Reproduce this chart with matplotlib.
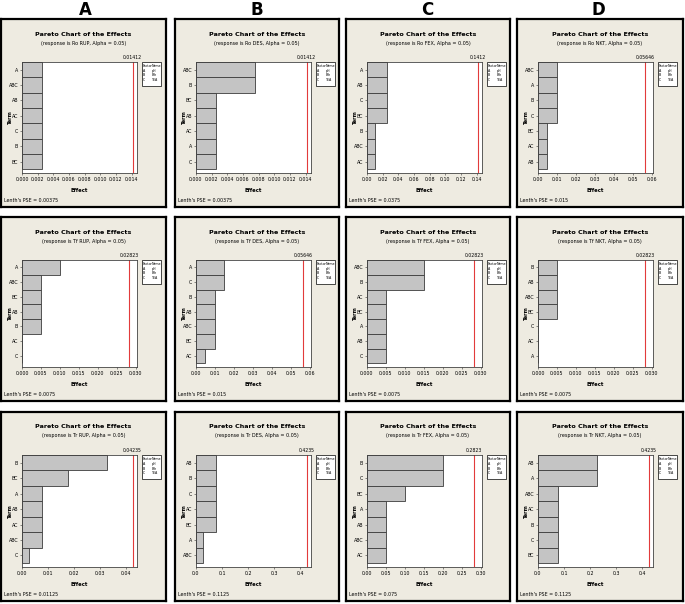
import numpy as np
import matplotlib
matplotlib.use("Agg")
import matplotlib.pyplot as plt
from matplotlib.patches import Rectangle
from matplotlib.transforms import blended_transform_factory

plt.rcParams["font.family"] = ["Liberation Sans Narrow", "DejaVu Sans"]

W, H = 685, 604

# responses (rows) and extraction methods (columns)
responses = ["Ro", "Tf", "Tr"]
methods = ["RUP", "DES", "FEX", "NKT"]
col_letters = ["A", "B", "C", "D"]

# Row 1: Ro
ro_rup_terms = ["A", "ABC", "AB", "AC", "C", "B", "BC"]
ro_rup_effects = [0.0025, 0.0025, 0.0025, 0.0025, 0.0025, 0.0025, 0.0025]
ro_des_terms = ["ABC", "B", "BC", "AB", "AC", "A", "C"]
ro_des_effects = [0.0075, 0.0075, 0.0025, 0.0025, 0.0025, 0.0025, 0.0025]
ro_fex_terms = ["A", "AB", "C", "BC", "B", "ABC", "AC"]
ro_fex_effects = [0.025, 0.025, 0.025, 0.025, 0.01, 0.01, 0.01]
ro_nkt_terms = ["ABC", "A", "B", "C", "BC", "AC", "AB"]
ro_nkt_effects = [0.01, 0.01, 0.01, 0.01, 0.005, 0.005, 0.005]

# Row 2: Tf
tf_rup_terms = ["A", "ABC", "BC", "AB", "B", "AC", "C"]
tf_rup_effects = [0.01, 0.005, 0.005, 0.005, 0.005, 0.0, 0.0]
tf_des_terms = ["A", "C", "B", "AB", "ABC", "BC", "AC"]
tf_des_effects = [0.015, 0.015, 0.01, 0.01, 0.01, 0.01, 0.005]
tf_fex_terms = ["ABC", "B", "AC", "BC", "A", "AB", "C"]
tf_fex_effects = [0.015, 0.015, 0.005, 0.005, 0.005, 0.005, 0.005]
tf_nkt_terms = ["B", "AB", "ABC", "BC", "C", "AC", "A"]
tf_nkt_effects = [0.005, 0.005, 0.005, 0.005, 0.0, 0.0, 0.0]

# Row 3: Tr
tr_rup_terms = ["B", "BC", "A", "AB", "AC", "ABC", "C"]
tr_rup_effects = [0.0325, 0.0175, 0.0075, 0.0075, 0.0075, 0.0075, 0.0025]
tr_des_terms = ["AB", "B", "C", "AC", "BC", "A", "ABC"]
tr_des_effects = [0.075, 0.075, 0.075, 0.075, 0.075, 0.025, 0.025]
tr_fex_terms = ["B", "C", "BC", "A", "AB", "ABC", "AC"]
tr_fex_effects = [0.2, 0.2, 0.1, 0.05, 0.05, 0.05, 0.05]
tr_nkt_terms = ["AB", "A", "ABC", "AC", "B", "C", "BC"]
tr_nkt_effects = [0.225, 0.225, 0.075, 0.075, 0.075, 0.075, 0.075]

terms = [[ro_rup_terms, ro_des_terms, ro_fex_terms, ro_nkt_terms],
         [tf_rup_terms, tf_des_terms, tf_fex_terms, tf_nkt_terms],
         [tr_rup_terms, tr_des_terms, tr_fex_terms, tr_nkt_terms]]
effects = [[ro_rup_effects, ro_des_effects, ro_fex_effects, ro_nkt_effects],
           [tf_rup_effects, tf_des_effects, tf_fex_effects, tf_nkt_effects],
           [tr_rup_effects, tr_des_effects, tr_fex_effects, tr_nkt_effects]]

ref_labels = [["0.01412", "0.01412", "0.1412", "0.05646"],
              ["0.02823", "0.05646", "0.02823", "0.02823"],
              ["0.04235", "0.4235", "0.2823", "0.4235"]]
lenth_pse = [["0.00375", "0.00375", "0.0375", "0.015"],
             ["0.0075", "0.015", "0.0075", "0.0075"],
             ["0.01125", "0.1125", "0.075", "0.1125"]]

tick_step = [[0.002, 0.002, 0.02, 0.01],
             [0.005, 0.01, 0.005, 0.005],
             [0.01, 0.1, 0.05, 0.1]]
tick_top = [[0.014, 0.014, 0.14, 0.06],
            [0.030, 0.06, 0.030, 0.030],
            [0.04, 0.4, 0.30, 0.4]]
tick_dec = [[3, 3, 2, 2], [3, 2, 3, 3], [2, 1, 2, 1]]

factor_letters = ["A", "B", "C"]
factor_names = ["pH", "Eth", "TEA"]

# pixel layout of the panels
col_x = [(1, 166), (175, 339), (346, 510), (517, 683)]
row_y = [(19, 207), (217, 401), (412, 601)]
letter_x = [85, 257, 427, 598]

PANEL_BG = "#EEEBE1"
BAR = "#C4C4C4"
REDLINE = "#E23B3B"


def fig_rect(x0, y0, x1, y1):
    return [x0 / W, 1 - y1 / H, (x1 - x0) / W, (y1 - y0) / H]


fig = plt.figure(figsize=(W / 100, H / 100), dpi=100)

for j, letter in enumerate(col_letters):
    fig.text(letter_x[j] / W, 1 - 10 / H, letter, ha="center", va="center",
             fontsize=12, fontweight="bold", family=["DejaVu Sans"])

for i in range(3):
    for j in range(4):
        x0, x1 = col_x[j]
        y0, y1 = row_y[i]
        pw, ph = x1 - x0, y1 - y0

        # beige panel with a black frame
        pan = fig.add_axes(fig_rect(x0, y0, x1, y1))
        pan.set_facecolor(PANEL_BG)
        pan.set_xlim(0, pw)
        pan.set_ylim(ph, 0)
        pan.set_xticks([])
        pan.set_yticks([])
        for s in pan.spines.values():
            s.set_linewidth(1.6)
            s.set_color("black")

        ax_l, ax_r, ax_t, ax_b = 21, 136, 43, ph - 34
        pan.text(pw / 2, 15, "Pareto Chart of the Effects", ha="center", va="center",
                 fontsize=4.6, fontweight="bold")
        pan.text(pw / 2, 24, f"(response is {responses[i]} {methods[j]}, Alpha = 0.05)",
                 ha="center", va="center", fontsize=3.5)
        pan.text(9, (ax_t + ax_b) / 2, "Term", rotation=90, ha="center", va="center",
                 fontsize=3.6, fontweight="bold")
        pan.text((ax_l + ax_r) / 2, ph - 17, "Effect", ha="center", va="center",
                 fontsize=3.8, fontweight="bold")
        pan.text(3, ph - 6, f"Lenth's PSE = {lenth_pse[i][j]}", ha="left", va="center",
                 fontsize=3.4)

        # factor legend box
        pan.add_patch(Rectangle((141, ax_t), 19, 24, facecolor="white",
                                edgecolor="black", linewidth=0.5))
        pan.text(142, ax_t + 4, "Factor", fontsize=2.3, va="center")
        pan.text(151, ax_t + 4, "Name", fontsize=2.3, va="center")
        for k, (fl, fn) in enumerate(zip(factor_letters, factor_names)):
            pan.text(142, ax_t + 9 + 4.5 * k, fl, fontsize=2.3, va="center")
            pan.text(151, ax_t + 9 + 4.5 * k, fn, fontsize=2.3, va="center")

        # the Pareto chart itself
        ax = fig.add_axes(fig_rect(x0 + ax_l, y0 + ax_t, x0 + ax_r, y0 + ax_b))
        ax.set_facecolor("white")
        t = terms[i][j]
        e = effects[i][j]
        ypos = np.arange(len(t))
        ax.barh(ypos, e, height=1.0, color=BAR, edgecolor="#3C3C3C", linewidth=0.6)
        ax.set_yticks(ypos)
        ax.set_yticklabels(t)
        ax.set_ylim(len(t) - 0.25, -0.5)

        ref = float(ref_labels[i][j])
        ax.axvline(ref, color=REDLINE, linewidth=0.8)
        trans = blended_transform_factory(ax.transData, ax.transAxes)
        ax.text(ref, 1.015, ref_labels[i][j], transform=trans, ha="center", va="bottom",
                fontsize=3.3)

        step, top, dec = tick_step[i][j], tick_top[i][j], tick_dec[i][j]
        ticks = np.arange(0, top + step / 2, step)
        ax.set_xticks(ticks)
        ax.set_xticklabels([f"{v:.{dec}f}" for v in ticks])
        ax.set_xlim(0, max(ref * 1.04, top * 1.012))

        ax.tick_params(labelsize=3.4, length=1.6, width=0.4, pad=1.2, color="#333333")
        for s in ax.spines.values():
            s.set_linewidth(0.6)
            s.set_color("#444444")

fig.savefig("out.png", dpi=100)
